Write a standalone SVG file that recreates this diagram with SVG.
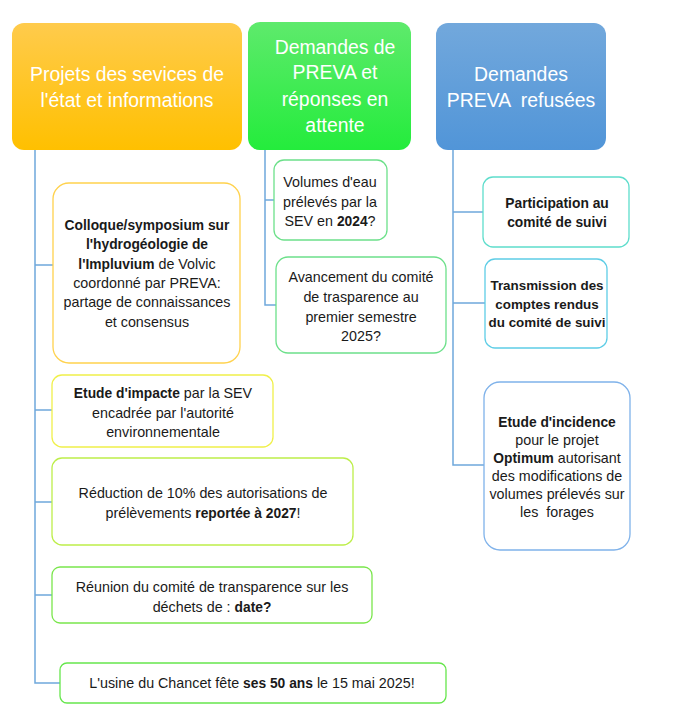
<svg xmlns="http://www.w3.org/2000/svg" width="683" height="724" viewBox="0 0 683 724">
<defs>
<linearGradient id="gO" x1="0" y1="0" x2="0" y2="1"><stop offset="0" stop-color="#FFCB4C"/><stop offset="1" stop-color="#FFC000"/></linearGradient>
<linearGradient id="gG" x1="0" y1="0" x2="0" y2="1"><stop offset="0" stop-color="#5EEA6C"/><stop offset="1" stop-color="#24EC3C"/></linearGradient>
<linearGradient id="gB" x1="0" y1="0" x2="0" y2="1"><stop offset="0" stop-color="#72A8DC"/><stop offset="1" stop-color="#5195D8"/></linearGradient>
</defs>
<style>
.h{font-family:"Liberation Sans",Arial,sans-serif;font-size:19.4px;fill:#fff;text-anchor:middle}
.t{font-family:"Liberation Sans",Arial,sans-serif;font-size:14.3px;fill:#1a1a1a;text-anchor:middle}
.b{font-weight:bold;font-size:13.8px}
.box{fill:#fff;stroke-width:1.3}
.c{fill:none;stroke:#6FA8DC;stroke-width:1.5}
</style>
<rect width="683" height="724" fill="#fff"/>
<g id="connectors">
<path class="c" d="M35 150 V683 H60 M35 265 H53 M35 410 H52 M35 502 H52 M35 595 H52"/>
<path class="c" d="M265 150 V305 H276 M265 200 H274"/>
<path class="c" d="M453 150 V465 H484 M453 212 H483 M453 303 H485"/>
</g>
<g id="h1"><rect x="12" y="23" width="230" height="127" rx="12" fill="url(#gO)"/>
<text class="h" x="127" y="81">Projets des sevices de</text><text class="h" x="127" y="107">l'état et informations</text></g>
<g id="h2"><rect x="248" y="22" width="163" height="128" rx="12" fill="url(#gG)"/>
<text class="h" x="335" y="54">Demandes de</text><text class="h" x="335" y="79">PREVA et</text><text class="h" x="335" y="106">réponses en</text><text class="h" x="335" y="132">attente</text></g>
<g id="h3"><rect x="436" y="23" width="170" height="127" rx="12" fill="url(#gB)"/>
<text class="h" x="521" y="81">Demandes</text><text class="h" x="521" y="107" xml:space="preserve">PREVA  refusées</text></g>
<g id="n1"><rect class="box" x="53" y="183" width="187" height="180" rx="16" stroke="#FFD24D"/>
<text class="t" x="147" y="230"><tspan class="b">Colloque/symposium sur</tspan></text>
<text class="t" x="147" y="249"><tspan class="b">l'hydrogéologie de</tspan></text>
<text class="t" x="147" y="269"><tspan class="b">l'Impluvium</tspan> de Volvic</text>
<text class="t" x="147" y="288">coordonné par PREVA:</text>
<text class="t" x="147" y="307">partage de connaissances</text>
<text class="t" x="147" y="327">et consensus</text></g>
<g id="n2"><rect class="box" x="52" y="375" width="221" height="72" rx="10" stroke="#F0F04A"/>
<text class="t" x="163" y="398"><tspan class="b">Etude d'impacte</tspan> par la SEV</text>
<text class="t" x="163" y="418">encadrée par l'autorité</text>
<text class="t" x="163" y="437">environnementale</text></g>
<g id="n3"><rect class="box" x="52" y="458" width="301" height="87" rx="10" stroke="#BDEE4A"/>
<text class="t" x="203" y="498">Réduction de 10% des autorisations de</text>
<text class="t" x="203" y="518">prélèvements <tspan class="b">reportée à 2027</tspan>!</text></g>
<g id="n4"><rect class="box" x="52" y="567" width="320" height="56" rx="8" stroke="#7AE64C"/>
<text class="t" x="212" y="592">Réunion du comité de transparence sur les</text>
<text class="t" x="212" y="612">déchets de : <tspan class="b">date?</tspan></text></g>
<g id="n5"><rect class="box" x="60" y="663" width="386" height="40" rx="7" stroke="#66E64C"/>
<text class="t" x="252" y="688">L'usine du Chancet fête <tspan class="b">ses 50 ans</tspan> le 15 mai 2025!</text></g>
<g id="n6"><rect class="box" x="274" y="160" width="113" height="80" rx="10" stroke="#6CE08A"/>
<text class="t" x="330" y="187">Volumes d'eau</text>
<text class="t" x="330" y="207">prélevés par la</text>
<text class="t" x="330" y="226">SEV en <tspan class="b">2024</tspan>?</text></g>
<g id="n7"><rect class="box" x="276" y="257" width="170" height="96" rx="12" stroke="#6CE08A"/>
<text class="t" x="361" y="282">Avancement du comité</text>
<text class="t" x="361" y="302">de trasparence au</text>
<text class="t" x="361" y="322">premier semestre</text>
<text class="t" x="361" y="341">2025?</text></g>
<g id="n8"><rect class="box" x="483" y="177" width="146" height="70" rx="10" stroke="#5EDDCC"/>
<text class="t b" x="557" y="208">Participation au</text>
<text class="t b" x="557" y="227">comité de suivi</text></g>
<g id="n9"><rect class="box" x="485" y="259" width="122" height="89" rx="10" stroke="#5ECDE6"/>
<text class="t b" x="547" y="290" style="font-size:13.4px">Transmission des</text>
<text class="t b" x="547" y="309" style="font-size:13.4px">comptes rendus</text>
<text class="t b" x="547" y="327" style="font-size:13.4px">du comité de suivi</text></g>
<g id="n10"><rect class="box" x="484" y="382" width="146" height="168" rx="16" stroke="#7FB2EA"/>
<text class="t" x="557" y="427"><tspan class="b">Etude d'incidence</tspan></text>
<text class="t" x="557" y="445">pour le projet</text>
<text class="t" x="557" y="463"><tspan class="b">Optimum</tspan> autorisant</text>
<text class="t" x="557" y="481">des modifications de</text>
<text class="t" x="557" y="499">volumes prélevés sur</text>
<text class="t" x="557" y="517" xml:space="preserve">les  forages</text></g>
</svg>
